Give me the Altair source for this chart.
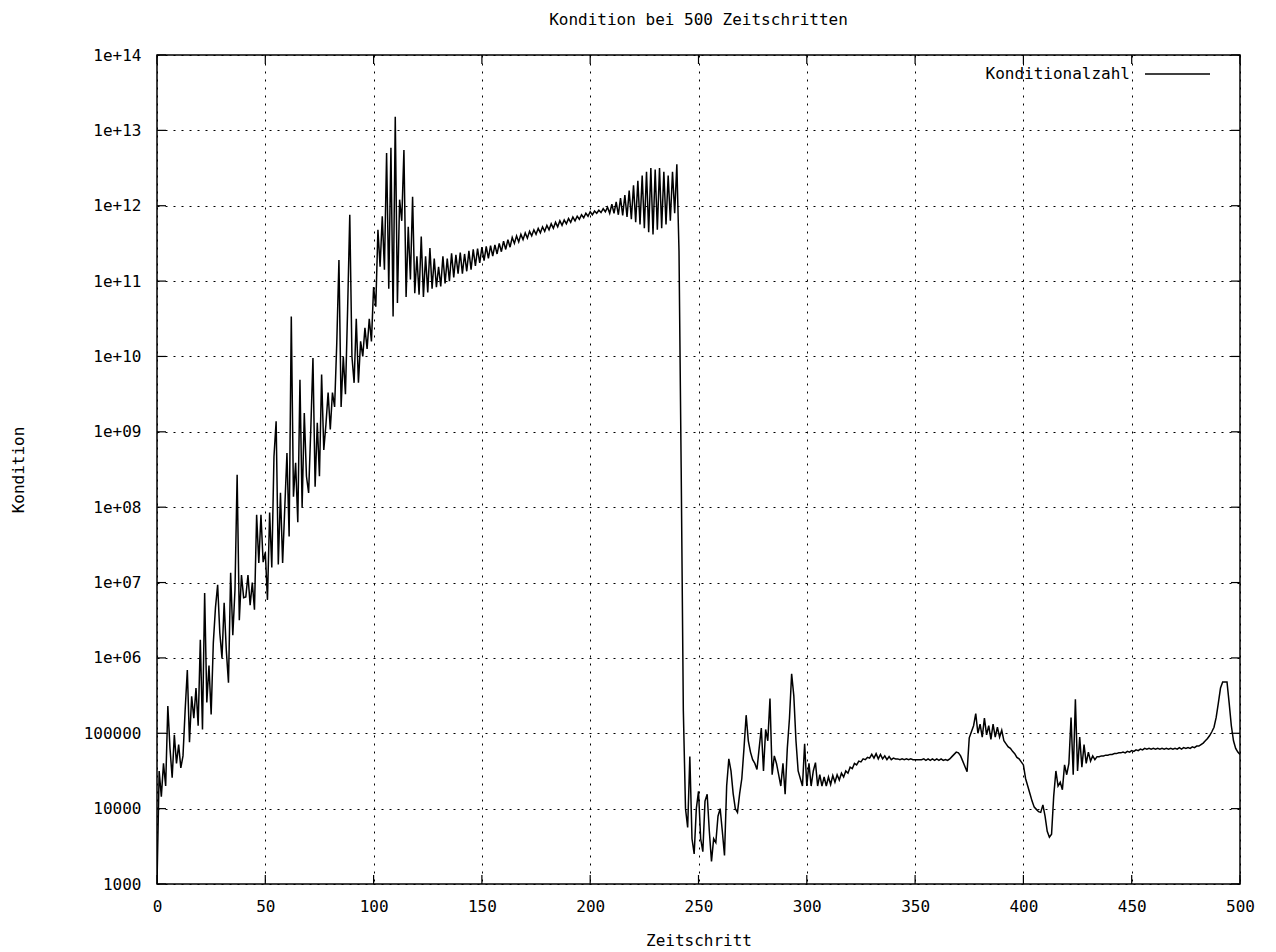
import altair as alt
import pandas as pd

# log10 of the condition number per time step, read in segments
ramp_log = [  # steps 0-99
    3.0, 4.5, 4.16, 4.6, 4.3, 5.36, 4.8, 4.41, 4.98, 4.6,
    4.85, 4.54, 4.7, 5.31, 5.84, 4.88, 5.49, 5.2, 5.6, 5.1,
    6.24, 5.05, 6.86, 5.41, 5.9, 5.25, 6.2, 6.67, 6.97, 6.33,
    6.0, 6.73, 6.1, 5.67, 7.13, 6.3, 6.9, 8.43, 6.5, 7.1,
    6.8, 6.81, 7.1, 6.7, 7.0, 6.64, 7.9, 7.26, 7.9, 7.27,
    7.4, 6.77, 7.93, 7.2, 8.67, 9.14, 7.24, 8.19, 7.26, 8.0,
    8.72, 7.61, 10.53, 8.14, 8.59, 7.8, 9.69, 8.0, 9.25, 8.41,
    8.19, 9.03, 9.98, 8.27, 9.12, 8.41, 9.76, 8.76, 9.1, 9.52,
    9.03, 9.52, 9.33, 10.18, 11.28, 9.33, 10.0, 9.5, 10.62, 11.88,
    10.0, 9.65, 10.5, 9.65, 10.2, 10.0, 10.38, 10.1, 10.5, 10.2,
]
peak_log = [  # steps 100-139
    10.92, 10.66, 11.68, 11.19, 11.86, 11.15, 12.70, 10.9, 12.77, 10.53,
    13.18, 10.71, 12.08, 11.8, 12.74, 10.79, 11.72, 11.02, 12.12, 10.84,
    11.33, 10.82, 11.59, 10.79, 11.33, 10.85, 11.44, 10.9, 11.3, 10.92,
    11.19, 10.93, 11.33, 10.97, 11.3, 11.0, 11.37, 11.05, 11.35, 11.1,
]
plateau_log = [  # steps 140-239
    11.38, 11.1, 11.36, 11.13, 11.4, 11.15, 11.42, 11.2, 11.43, 11.24,
    11.45, 11.27, 11.46, 11.3, 11.47, 11.33, 11.48, 11.36, 11.5, 11.39,
    11.53, 11.42, 11.55, 11.45, 11.58, 11.5, 11.6, 11.52, 11.62, 11.55,
    11.64, 11.57, 11.66, 11.6, 11.68, 11.62, 11.7, 11.64, 11.72, 11.66,
    11.74, 11.68, 11.76, 11.7, 11.78, 11.72, 11.8, 11.74, 11.81, 11.76,
    11.83, 11.78, 11.85, 11.8, 11.86, 11.82, 11.88, 11.84, 11.9, 11.86,
    11.92, 11.88, 11.93, 11.9, 11.94, 11.91, 11.96, 11.92, 11.98, 11.9,
    12.02, 11.9, 12.05, 11.88, 12.1, 11.87, 12.14, 11.85, 12.2, 11.82,
    12.27, 11.78, 12.33, 11.75, 12.4, 11.7, 12.45, 11.65, 12.5, 11.62,
    12.48, 11.68, 12.5, 11.7, 12.45, 11.75, 12.4, 11.8, 12.45, 11.9,
]
crash_log = [  # steps 240-299
    12.55, 11.4, 8.52, 5.3, 4.0, 3.75, 4.69, 3.6, 3.4, 4.0,
    4.23, 3.6, 3.43, 4.1, 4.19, 3.7, 3.3, 3.6, 3.55, 3.9,
    4.0, 3.7, 3.38, 4.3, 4.66, 4.5, 4.2, 4.0, 3.95, 4.2,
    4.4, 4.8, 5.24, 4.9, 4.75, 4.65, 4.6, 4.52, 4.8, 5.07,
    4.5, 5.05, 4.9, 5.46, 4.45, 4.7, 4.6, 4.45, 4.3, 4.6,
    4.19, 4.8, 5.2, 5.79, 5.5, 4.9, 4.5, 4.4, 4.3, 4.86,
]
calm_log = [  # steps 300-399
    4.3, 4.6, 4.3, 4.5, 4.61, 4.3, 4.45, 4.3, 4.42, 4.3,
    4.42, 4.32, 4.44, 4.35, 4.45, 4.38, 4.47, 4.42, 4.5, 4.47,
    4.55, 4.53, 4.6, 4.58, 4.63, 4.62, 4.66, 4.65, 4.68, 4.67,
    4.72, 4.67, 4.73, 4.66, 4.72, 4.66, 4.7, 4.65, 4.69, 4.65,
    4.67, 4.66, 4.66, 4.65, 4.66, 4.65, 4.66, 4.65, 4.66, 4.65,
    4.65, 4.65, 4.65, 4.65, 4.66, 4.64, 4.66, 4.64, 4.66, 4.64,
    4.66, 4.64, 4.66, 4.64, 4.65, 4.64, 4.66, 4.69, 4.72, 4.75,
    4.74, 4.7, 4.63, 4.56, 4.49, 4.94, 5.02, 5.1, 5.26, 5.0,
    5.12, 4.95, 5.2, 4.98, 5.1, 4.92, 5.12, 4.95, 5.08, 4.95,
    5.04, 4.9, 4.86, 4.82, 4.8, 4.76, 4.73, 4.68, 4.66, 4.62,
]
tail_log = [  # steps 400-500
    4.58, 4.4, 4.3, 4.2, 4.1, 4.02, 3.99, 3.96, 3.95, 4.05,
    3.9, 3.7, 3.62, 3.66, 4.17, 4.5, 4.3, 4.35, 4.25, 4.58,
    4.45, 4.6, 5.21, 4.45, 5.45, 4.5, 4.95, 4.55, 4.85, 4.6,
    4.75, 4.63, 4.7, 4.65, 4.69, 4.69, 4.7, 4.7, 4.71, 4.71,
    4.72, 4.72, 4.73, 4.73, 4.74, 4.74, 4.75, 4.74, 4.76, 4.75,
    4.77, 4.76, 4.78, 4.77, 4.79, 4.78, 4.8, 4.79, 4.8, 4.79,
    4.8, 4.79, 4.8, 4.79, 4.8, 4.79, 4.8, 4.79, 4.8, 4.79,
    4.8, 4.79, 4.81, 4.79, 4.81, 4.8, 4.81, 4.8, 4.82, 4.81,
    4.83, 4.83, 4.85, 4.87, 4.9, 4.93, 4.97, 5.02, 5.08, 5.21,
    5.4, 5.6, 5.68, 5.68, 5.68, 5.4, 5.1, 4.9, 4.8, 4.75,
    4.72,
]

x_ticks = [0, 50, 100, 150, 200, 250, 300, 350, 400, 450, 500]
y_ticks = [1e3, 1e4, 1e5, 1e6, 1e7, 1e8, 1e9, 1e10, 1e11, 1e12, 1e13, 1e14]
legend_label = ["Konditionalzahl"]

kondition_log = ramp_log + peak_log + plateau_log + crash_log + calm_log + tail_log
df = pd.DataFrame({
    "Zeitschritt": list(range(len(kondition_log))),
    "Kondition": [10 ** v for v in kondition_log],
})

W, H = 1083, 829
FONT = "DejaVu Sans Mono"
FS = 16
TICK = 9

x_scale = alt.Scale(domain=[0, 500], nice=False, zero=False)
y_scale = alt.Scale(type="log", domain=[1e3, 1e14], nice=False)

label_expr = (
    "datum.value >= 1000000 ? '1e+' + "
    "(round(log(datum.value) / LN10) < 10 ? '0' : '') + round(log(datum.value) / LN10)"
    " : format(datum.value, 'd')"
)

common_axis = dict(
    grid=True, gridDash=[2, 6], gridColor="black", gridOpacity=1, gridWidth=1,
    ticks=False, domain=False,
    labelFont=FONT, labelFontSize=FS, labelColor="black",
    titleFont=FONT, titleFontSize=FS, titleFontWeight="normal", titleColor="black",
)

x_axis = alt.Axis(
    values=x_ticks, labelPadding=14, labelFlush=False,
    title="Zeitschritt", titleX=W / 2, titleY=56, titleBaseline="middle",
    titleAlign="center", **common_axis,
)
y_axis = alt.Axis(
    values=y_ticks, labelExpr=label_expr, labelPadding=16, labelFlush=False,
    title="Kondition", titleX=-139, titleY=H / 2, titleAngle=-90,
    titleBaseline="middle", titleAlign="center", **common_axis,
)

x_enc = alt.X("Zeitschritt:Q", scale=x_scale, axis=x_axis)
y_enc = alt.Y("Kondition:Q", scale=y_scale, axis=y_axis)

line = alt.Chart(df).mark_line(color="black", strokeWidth=1.5, clip=True).encode(
    x=x_enc, y=y_enc
)

# inward tick marks on all four sides of the frame
xt = pd.DataFrame({"Zeitschritt": x_ticks})
yt = pd.DataFrame({"Kondition": y_ticks})
tick_style = dict(color="black", strokeWidth=1.2)

bottom_ticks = alt.Chart(xt).mark_rule(**tick_style).encode(
    x=x_enc, y=alt.value(H), y2=alt.value(H - TICK))
top_ticks = alt.Chart(xt).mark_rule(**tick_style).encode(
    x=x_enc, y=alt.value(0), y2=alt.value(TICK))
left_ticks = alt.Chart(yt).mark_rule(**tick_style).encode(
    y=y_enc, x=alt.value(0), x2=alt.value(TICK))
right_ticks = alt.Chart(yt).mark_rule(**tick_style).encode(
    y=y_enc, x=alt.value(W), x2=alt.value(W - TICK))

legend_df = pd.DataFrame({"label": legend_label})
legend_text = alt.Chart(legend_df).mark_text(
    align="right", baseline="middle", font=FONT, fontSize=FS, color="black"
).encode(x=alt.value(973), y=alt.value(19), text="label:N")
legend_line = alt.Chart(legend_df).mark_rule(color="black", strokeWidth=1.5).encode(
    x=alt.value(988), x2=alt.value(1053), y=alt.value(19))

chart = alt.layer(
    line, bottom_ticks, top_ticks, left_ticks, right_ticks, legend_text, legend_line
).properties(
    width=W,
    height=H,
    background="white",
    title=alt.TitleParams(
        "Kondition bei 500 Zeitschritten", font=FONT, fontSize=FS,
        fontWeight="normal", color="black", anchor="middle", offset=19,
    ),
    padding={"left": 157, "top": 55, "right": 36, "bottom": 68},
    autosize=alt.AutoSizeParams(type="none"),
).configure_view(stroke="black", strokeWidth=1.5)

chart.save("out.html", embed_options={"renderer": "svg", "actions": False})
